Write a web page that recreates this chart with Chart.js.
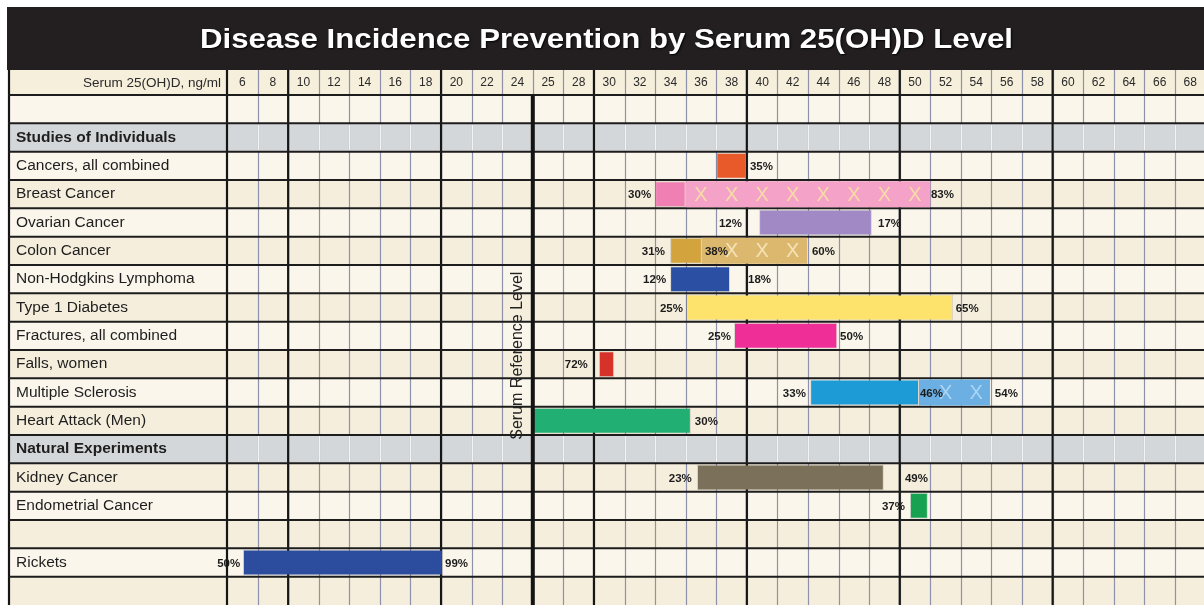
<!DOCTYPE html>
<html>
<head>
<meta charset="utf-8">
<script src="https://cdn.jsdelivr.net/npm/chart.js@4.4.1/dist/chart.umd.min.js"></script>
<style>
  html, body { margin: 0; padding: 0; background: #fff; }
  #wrap { width: 1204px; height: 605px; }
</style>
</head>
<body>
<div id="wrap"><canvas id="vitd" width="1204" height="605"></canvas></div>
<script>
const titleText = 'Disease Incidence Prevention by Serum 25(OH)D Level';
const axisCaption = 'Serum 25(OH)D, ng/ml';
const refCaption = 'Serum Reference Level';

// serum level columns (column i spans i .. i+1 on the x scale)
const levels = ['6', '8', '10', '12', '14', '16', '18', '20', '22', '24', '25', '28', '30', '32', '34', '36', '38',
  '40', '42', '44', '46', '48', '50', '52', '54', '56', '58', '60', '62', '64', '66', '68'];
const refColumn = 10;

const rows = ['', 'Studies of Individuals', 'Cancers, all combined', 'Breast Cancer', 'Ovarian Cancer', 'Colon Cancer',
  'Non-Hodgkins Lymphoma', 'Type 1 Diabetes', 'Fractures, all combined', 'Falls, women', 'Multiple Sclerosis',
  'Heart Attack (Men)', 'Natural Experiments', 'Kidney Cancer', 'Endometrial Cancer', '', 'Rickets', ''];
const sectionRows = ['Studies of Individuals', 'Natural Experiments'];

// bar extents in column units
const mainBars = [null, null, [16, 17], [14, 15], [17.4, 21.09], [14.49, 15.53], [14.49, 16.45], [15.01, 23.74],
  [16.58, 19.96], [12.16, 12.66], [19.07, 22.63], [10, 15.17], null, [15.37, 21.48], [22.33, 22.92], null, [0.52, 7.06], null];
const crossBars = [null, null, null, [15, 23], null, [15.53, 18.97], null, null, null, null, [22.63, 24.95], null,
  null, null, null, null, null, null];

const mainColors = ['', '', '#e95a2b', '#f07fb4', '#a089c5', '#d3a33d', '#2b4fa2', '#fde36c', '#ef2f97', '#d6322a',
  '#1d9bd6', '#22af74', '', '#7b705a', '#17a251', '', '#2c4d9e', ''];
const crossColors = ['', '', '', '#f4a2c7', '', '#dcb86f', '', '', '', '', '#6cafe2', '', '', '', '', '', '', ''];
const crossMarkColors = ['', '', '', '#f6dba6', '', '#f4e2b6', '', '', '', '', '#acd4f3', '', '', '', '', '', '', ''];

// percent labels and where they sit (column units)
const leftPct = ['', '', '', '30%', '12%', '31%', '12%', '25%', '25%', '72%', '33%', '', '', '23%', '37%', '', '50%', ''];
const leftPctAt = [0, 0, 0, 13.87, 16.84, 14.32, 14.36, 14.91, 16.48, 11.8, 18.93, 0, 0, 15.2, 22.17, 0, 0.43, 0];
const midPct = ['', '', '', '', '', '38%', '', '', '', '', '46%', '', '', '', '', '', '', ''];
const midPctAt = [0, 0, 0, 0, 0, 15.63, 0, 0, 0, 0, 22.66, 0, 0, 0, 0, 0, 0, 0];
const rightPct = ['', '', '35%', '83%', '17%', '60%', '18%', '65%', '50%', '', '54%', '30%', '', '49%', '', '', '99%', ''];
const rightPctAt = [0, 0, 17.1, 23.02, 21.29, 19.13, 17.04, 23.83, 20.05, 0, 25.11, 15.3, 0, 22.17, 0, 0, 7.13, 0];

const FONT = '"Liberation Sans", Arial, sans-serif';

const tablePlugin = {
  id: 'vitdTable',
  beforeDraw(chart) {
    const { ctx, scales: { x, y }, chartArea } = chart;
    const left = 8, right = chart.width;
    const half = (y.getPixelForValue(1) - y.getPixelForValue(0)) / 2;
    ctx.save();
    ctx.fillStyle = '#ffffff';
    ctx.fillRect(0, 0, chart.width, chart.height);
    // title bar
    ctx.fillStyle = '#231f20';
    ctx.fillRect(7, 7, right - 7, 63);
    ctx.font = 'bold 28px ' + FONT;
    const w = ctx.measureText(titleText).width;
    ctx.translate(606.5, 48);
    ctx.scale(813 / w, 1);
    ctx.textAlign = 'center';
    ctx.textBaseline = 'alphabetic';
    ctx.shadowColor = 'rgba(0,0,0,0.9)';
    ctx.shadowBlur = 2;
    ctx.shadowOffsetX = 1;
    ctx.shadowOffsetY = 1;
    ctx.fillStyle = '#ffffff';
    ctx.fillText(titleText, 0, 0);
    ctx.restore();

    ctx.save();
    // header row
    ctx.fillStyle = '#f6efdc';
    ctx.fillRect(left, 70, right - left, chartArea.top - 70);
    // row backgrounds
    rows.forEach((r, i) => {
      const yc = y.getPixelForValue(i);
      ctx.fillStyle = sectionRows.includes(r) ? '#d4d7d9' : (i % 2 ? '#f5eedc' : '#faf6ec');
      ctx.fillRect(left, yc - half, right - left, half * 2);
    });
    // thin column lines
    ctx.lineWidth = 1.2;
    for (let b = 1; b < levels.length; b++) {
      const px = Math.round(x.getPixelForValue(b)) + 0.5;
      ctx.strokeStyle = '#8d92aa';
      ctx.beginPath();
      ctx.moveTo(px, 70);
      ctx.lineTo(px, chartArea.bottom);
      ctx.stroke();
      rows.forEach((r, i) => {
        if (!sectionRows.includes(r)) return;
        const yc = y.getPixelForValue(i);
        ctx.strokeStyle = '#f2f3f3';
        ctx.beginPath();
        ctx.moveTo(px, yc - half + 1);
        ctx.lineTo(px, yc + half - 1);
        ctx.stroke();
      });
    }
    // thick column lines every five columns
    ctx.strokeStyle = '#161616';
    ctx.lineWidth = 2.2;
    [0, 2, 7, 12, 17, 22, 27].forEach(b => {
      const px = x.getPixelForValue(b);
      ctx.beginPath();
      ctx.moveTo(px, 70);
      ctx.lineTo(px, chartArea.bottom);
      ctx.stroke();
    });
    ctx.beginPath();
    ctx.moveTo(left + 1, 70);
    ctx.lineTo(left + 1, chartArea.bottom);
    ctx.stroke();
    // row lines
    ctx.strokeStyle = '#1d1d1d';
    ctx.lineWidth = 2;
    for (let i = 0; i < rows.length; i++) {
      const yy = y.getPixelForValue(i) - half;
      ctx.beginPath();
      ctx.moveTo(left, yy);
      ctx.lineTo(right, yy);
      ctx.stroke();
    }
    // header caption
    ctx.fillStyle = '#2a2a2a';
    ctx.font = '13.5px ' + FONT;
    ctx.textAlign = 'right';
    ctx.textBaseline = 'middle';
    ctx.fillText(axisCaption, 221, 83);
    ctx.restore();
  },
  afterDatasetsDraw(chart) {
    const { ctx, scales: { x, y }, chartArea } = chart;
    ctx.save();
    // X marks on the extended segments
    ctx.font = '20px ' + FONT;
    ctx.textAlign = 'center';
    ctx.textBaseline = 'middle';
    crossBars.forEach((seg, i) => {
      if (!seg) return;
      ctx.fillStyle = crossMarkColors[i];
      for (let c = 0; c < levels.length; c++) {
        if (c + 0.5 > seg[0] && c + 0.5 < seg[1]) {
          ctx.fillText('X', x.getPixelForValue(c + 0.5), y.getPixelForValue(i) + 1);
        }
      }
    });
    // percent labels
    ctx.font = 'bold 11.5px ' + FONT;
    ctx.fillStyle = '#1c1c1c';
    rows.forEach((r, i) => {
      const yc = y.getPixelForValue(i) + 1;
      if (leftPct[i]) {
        ctx.textAlign = 'right';
        ctx.fillText(leftPct[i], x.getPixelForValue(leftPctAt[i]), yc);
      }
      ctx.textAlign = 'left';
      if (midPct[i]) ctx.fillText(midPct[i], x.getPixelForValue(midPctAt[i]), yc);
      if (rightPct[i]) ctx.fillText(rightPct[i], x.getPixelForValue(rightPctAt[i]), yc);
    });
    // serum reference line
    const rx = x.getPixelForValue(refColumn);
    ctx.strokeStyle = '#141414';
    ctx.lineWidth = 4;
    ctx.beginPath();
    ctx.moveTo(rx, chartArea.top);
    ctx.lineTo(rx, chartArea.bottom);
    ctx.stroke();
    // rotated caption inside the column left of the line
    ctx.translate(x.getPixelForValue(refColumn - 0.5), y.getPixelForValue(8.7));
    ctx.rotate(-Math.PI / 2);
    ctx.font = '16px ' + FONT;
    ctx.textAlign = 'center';
    ctx.textBaseline = 'middle';
    ctx.fillStyle = '#222222';
    ctx.fillText(refCaption, 0, 0);
    ctx.restore();
  }
};

new Chart(document.getElementById('vitd'), {
  type: 'bar',
  data: {
    labels: rows,
    datasets: [
      {
        data: mainBars,
        backgroundColor: mainColors,
        borderColor: 'rgba(0,0,0,0.12)',
        borderWidth: 1,
        borderSkipped: false,
        barPercentage: 0.92,
        categoryPercentage: 1,
        grouped: false
      },
      {
        data: crossBars,
        backgroundColor: crossColors,
        borderWidth: 0,
        barPercentage: 0.92,
        categoryPercentage: 1,
        grouped: false
      }
    ]
  },
  options: {
    indexAxis: 'y',
    responsive: false,
    animation: false,
    devicePixelRatio: 1,
    layout: { padding: { top: 70, left: 16, right: 0, bottom: 0 } },
    plugins: { legend: { display: false }, tooltip: { enabled: false }, title: { display: false } },
    scales: {
      x: {
        type: 'linear',
        position: 'top',
        min: 0,
        max: 31.95,
        grid: { display: false, drawTicks: false },
        border: { display: false },
        afterBuildTicks: s => { s.ticks = levels.map((_, i) => ({ value: i + 0.5 })); },
        afterFit: s => { s.height = 25; s.paddingLeft = 0; s.paddingRight = 0; },
        ticks: {
          autoSkip: false,
          maxRotation: 0,
          padding: 5,
          color: '#2a2a2a',
          font: { family: FONT, size: 12 },
          callback: (v, i) => levels[i]
        }
      },
      y: {
        type: 'category',
        grid: { display: false, drawTicks: false },
        border: { display: false },
        afterFit: s => { s.width = 211; s.paddingTop = 0; s.paddingBottom = 0; },
        ticks: {
          autoSkip: false,
          crossAlign: 'far',
          color: '#1e1e1e',
          font: c => ({ family: FONT, size: 15.5, weight: sectionRows.includes(rows[c.index]) ? 'bold' : 'normal' })
        }
      }
    }
  },
  plugins: [tablePlugin]
});
</script>
</body>
</html>
